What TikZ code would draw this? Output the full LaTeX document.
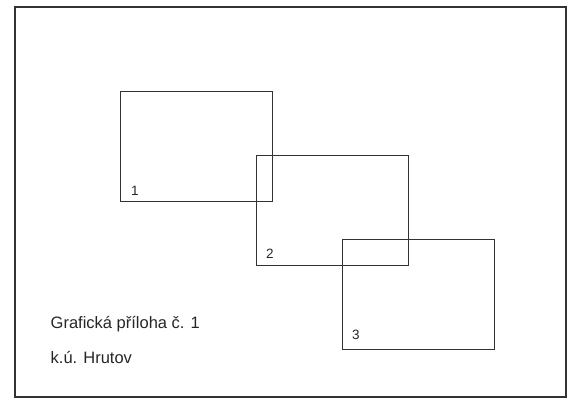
\documentclass[tikz,border=0pt]{standalone}
\usepackage{fontspec}
\setmainfont{Liberation Sans}
\usetikzlibrary{positioning}

\begin{document}
\begin{tikzpicture}[
    x=1pt, y=-1pt,
    frame/.style    = {draw=black!80, line width=1.1pt},
    parcel/.style   = {rectangle, draw=black!80, line width=1pt, minimum width=152pt, minimum height=110pt, inner sep=0pt, anchor=north west},
    parcelno/.style = {anchor=base west, inner sep=0pt, text=black!85, font=\fontsize{13.5}{16}\selectfont},
    caption/.style  = {anchor=base west, inner sep=0pt, text=black!85, font=\fontsize{16.5}{20}\selectfont}
]
    \useasboundingbox (0,0) rectangle (573,405);

    % --- Ramecek ---
    \draw [frame] (15,7) rectangle (566,397);

    % --- Parcely ---
    \node (p1) [parcel] at (120,91) {};
    \node (p2) [parcel] at (255.5,155) {};
    \node (p3) [parcel] at (342,238.5) {};

    % --- Cisla parcel ---
    \node (n1) [parcelno] at ([xshift=11pt, yshift=7pt]p1.south west) {1};
    \node (n2) [parcelno] at ([xshift=10.5pt, yshift=8pt]p2.south west) {2};
    \node (n3) [parcelno] at ([xshift=10pt, yshift=10.5pt]p3.south west) {3};

    % --- Popis ---
    \node (cap1) [caption] at (50.5,328) {Grafická příloha č. 1};
    \node (cap2) [caption] at (50.5,363) {k.ú. Hrutov};

\end{tikzpicture}
\end{document}
